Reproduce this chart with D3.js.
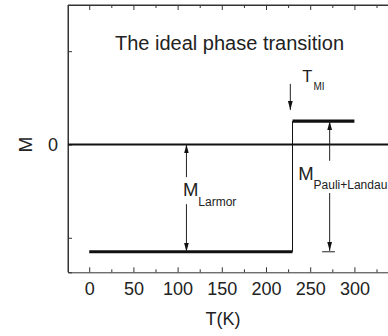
<!DOCTYPE html>
<html>
<head>
  <meta charset="utf-8">
  <title>The ideal phase transition</title>
  <script src="https://d3js.org/d3.v7.min.js"></script>
  <style>
    body { margin: 0; background: #fff; }
    text { font-family: Arial, "Liberation Sans", sans-serif; fill: #222; }
  </style>
</head>
<body>
<script>
  // data
  var stepT = [0, 230, 230, 300]           // T(K)
  var stepM = [-1.15, -1.15, 0.25, 0.25]   // M (arb. units)
  var majorT = [0, 50, 100, 150, 200, 250, 300]
  var minorT = [25, 75, 125, 175, 225, 275, 325]
  var majorM = [-1, 0, 1]
  var labelM = [0]
  var Tmi = 227.5                            // position of the T_MI arrow
  var larmorT = 110
  var pauliT = 272

  var W = 388, H = 336
  var svg = d3.select("body").append("svg").attr("width", W).attr("height", H)

  var x = d3.scaleLinear().domain([-24, 338]).range([68, 388])
  var y = d3.scaleLinear().domain([-1.37, 1.495]).range([272.3, 5])

  // frame: left + top
  svg.append("line").attr("x1", x(-24)).attr("x2", x(338)).attr("y1", y(1.495)).attr("y2", y(1.495))
    .attr("stroke", "#333").attr("stroke-width", 1)
  svg.append("line").attr("x1", x(-24)).attr("x2", x(-24)).attr("y1", y(1.495)).attr("y2", y(-1.37))
    .attr("stroke", "#333").attr("stroke-width", 1)

  function styleAxis(g) {
    g.select(".domain").attr("stroke", "#333")
    g.selectAll(".tick line").attr("stroke", "#333")
    g.selectAll("text").attr("font-size", "18px").attr("font-family", "Arial, 'Liberation Sans', sans-serif").attr("fill", "#222")
  }

  // bottom axis
  var gx = svg.append("g").attr("transform", "translate(0," + y(-1.37) + ")")
  gx.call(d3.axisBottom(x).tickValues(majorT).tickSize(-5).tickPadding(10).tickFormat(d3.format("d")))
  gx.append("g").call(d3.axisBottom(x).tickValues(minorT).tickSize(-3).tickFormat(""))
    .select(".domain").remove()
  styleAxis(gx)

  // top axis, ticks only
  var gt = svg.append("g").attr("transform", "translate(0," + y(1.495) + ")")
  gt.call(d3.axisTop(x).tickValues(majorT).tickSize(-5).tickFormat(""))
  gt.append("g").call(d3.axisTop(x).tickValues(minorT).tickSize(-3).tickFormat(""))
    .select(".domain").remove()
  styleAxis(gt)

  // left axis
  var gy = svg.append("g").attr("transform", "translate(" + x(-24) + ",0)")
  gy.call(d3.axisLeft(y).tickValues(majorM).tickSize(-4).tickPadding(10)
    .tickFormat(function(d) { return labelM.indexOf(d) >= 0 ? d : "" }))
  styleAxis(gy)

  // zero line
  svg.append("line").attr("x1", x(-24)).attr("x2", x(338)).attr("y1", y(0)).attr("y2", y(0))
    .attr("stroke", "#111").attr("stroke-width", 1.8)

  // axis titles
  svg.append("text").attr("x", (x(-24) + x(338)) / 2 - 5).attr("y", 325)
    .attr("text-anchor", "middle").attr("font-size", "18px").text("T(K)")
  svg.append("text").attr("transform", "translate(32," + y(0) + ") rotate(-90)")
    .attr("text-anchor", "middle").attr("font-size", "19px").text("M")

  // title
  svg.append("text").attr("x", 115).attr("y", 50).attr("font-size", "20px").text("The ideal phase transition")

  // the step
  var pts = stepT.map(function(t, i) { return [t, stepM[i]] })
  var segs = d3.pairs(pts)
  svg.selectAll(".seg").data(segs).enter().append("line")
    .attr("class", "seg")
    .attr("x1", function(d) { return x(d[0][0]) }).attr("y1", function(d) { return y(d[0][1]) })
    .attr("x2", function(d) { return x(d[1][0]) }).attr("y2", function(d) { return y(d[1][1]) })
    .attr("stroke", "#111")
    .attr("stroke-width", function(d) { return d[0][1] === d[1][1] ? 3.2 : 1 })

  // arrowhead
  svg.append("defs").append("marker")
    .attr("id", "head").attr("markerUnits", "userSpaceOnUse")
    .attr("viewBox", "0 0 9 6").attr("refX", 9).attr("refY", 3)
    .attr("markerWidth", 9).attr("markerHeight", 6).attr("orient", "auto")
    .append("path").attr("d", "M0,0.6L9,3L0,5.4Z").attr("fill", "#111")

  function arrow(t, m1, m2) {
    svg.append("line").attr("x1", x(t)).attr("x2", x(t)).attr("y1", y(m1)).attr("y2", y(m2))
      .attr("stroke", "#222").attr("stroke-width", 1).attr("marker-end", "url(#head)")
  }

  // T_MI
  arrow(Tmi, 0.65, 0.37)
  var tmi = svg.append("text").attr("x", x(Tmi) + 12).attr("y", 82).attr("font-size", "16.5px")
  tmi.append("tspan").text("T")
  tmi.append("tspan").attr("font-size", "10px").attr("dx", 1).attr("dy", 7.5).text("MI")

  // M_Larmor
  arrow(larmorT, -0.35, 0)
  arrow(larmorT, -0.64, stepM[0])
  var ml = svg.append("text").attr("x", x(larmorT) - 3.5).attr("y", 196).attr("font-size", "18.5px")
  ml.append("tspan").text("M")
  ml.append("tspan").attr("font-size", "12px").attr("dy", 10).text("Larmor")

  // M_Pauli+Landau
  arrow(pauliT, -0.175, stepM[2])
  arrow(pauliT, -0.52, -1.14)
  svg.append("line").attr("x1", x(pauliT - 8.5)).attr("x2", x(pauliT + 6)).attr("y1", y(-1.15)).attr("y2", y(-1.15))
    .attr("stroke", "#222").attr("stroke-width", 1)
  var mp = svg.append("text").attr("x", x(pauliT) - 31.5).attr("y", 180).attr("font-size", "18.5px")
  mp.append("tspan").text("M")
  mp.append("tspan").attr("font-size", "12px").attr("dy", 8.5).text("Pauli+Landau")
</script>
</body>
</html>
